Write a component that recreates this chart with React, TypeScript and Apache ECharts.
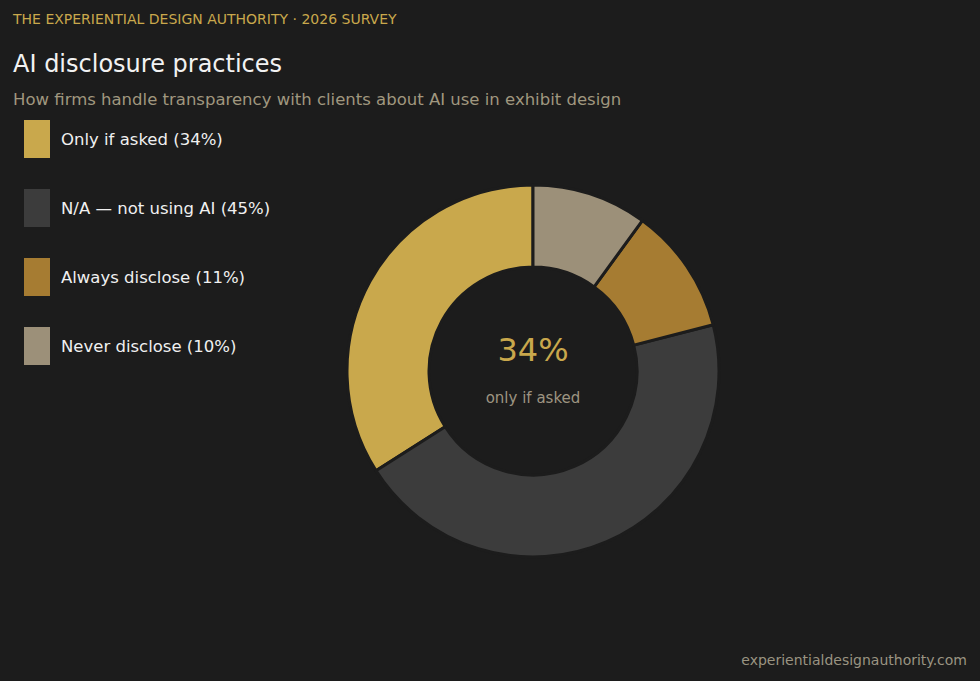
import { useEffect, useRef } from 'react';
import * as echarts from 'echarts';

const categories = ['Only if asked', 'N/A — not using AI', 'Always disclose', 'Never disclose'];
const shares = [34, 45, 11, 10];
const colors = ['#c9a84c', '#3c3c3c', '#a67c32', '#9c9079'];

const BG = '#1c1c1c';
const FONT = 'DejaVu Sans, Verdana, sans-serif';

export default function App() {
    const chartRef = useRef<HTMLDivElement>(null);

    useEffect(() => {
        if (!chartRef.current) return;
        const chart = echarts.init(chartRef.current, null, { renderer: 'svg' });

        const option = {
            animation: false,
            backgroundColor: BG,
            textStyle: { fontFamily: FONT },
            title: [
                {
                    text: 'THE EXPERIENTIAL DESIGN AUTHORITY · 2026 SURVEY',
                    left: 8,
                    top: 7,
                    textStyle: { color: '#c9a84c', fontSize: 14, fontWeight: 'normal', fontFamily: FONT },
                },
                {
                    text: 'AI disclosure practices',
                    left: 8,
                    top: 47,
                    textStyle: { color: '#f2f2f2', fontSize: 24, fontWeight: 'normal', fontFamily: FONT },
                },
                {
                    text: 'How firms handle transparency with clients about AI use in exhibit design',
                    left: 8,
                    top: 86,
                    textStyle: { color: '#a0977f', fontSize: 16.5, fontWeight: 'normal', fontFamily: FONT },
                },
                {
                    text: 'experientialdesignauthority.com',
                    right: 8,
                    top: 648,
                    textStyle: { color: '#9a9482', fontSize: 14, fontWeight: 'normal', fontFamily: FONT },
                },
            ],
            legend: {
                orient: 'vertical',
                left: 19,
                top: 115,
                itemWidth: 26,
                itemHeight: 38,
                itemGap: 31,
                icon: 'rect',
                selectedMode: false,
                itemStyle: { borderWidth: 0 },
                formatter: (name: string) => {
                    const i = categories.indexOf(name);
                    return `${name} (${shares[i]}%)`;
                },
                textStyle: { color: '#f0f0f0', fontSize: 16.5, fontFamily: FONT, padding: [0, 0, 0, 6] },
            },
            graphic: [
                {
                    type: 'text',
                    x: 533,
                    y: 350,
                    style: {
                        text: `${shares[0]}%`,
                        fill: '#c9a84c',
                        font: `32px ${FONT}`,
                        textAlign: 'center',
                        textVerticalAlign: 'middle',
                    },
                },
                {
                    type: 'text',
                    x: 533,
                    y: 398,
                    style: {
                        text: 'only if asked',
                        fill: '#9d9481',
                        font: `15px ${FONT}`,
                        textAlign: 'center',
                        textVerticalAlign: 'middle',
                    },
                },
            ],
            series: [
                {
                    type: 'pie',
                    center: [533, 371],
                    radius: [104, 186],
                    startAngle: 90,
                    clockwise: false,
                    label: { show: false },
                    labelLine: { show: false },
                    emphasis: { disabled: true },
                    itemStyle: { borderColor: BG, borderWidth: 3 },
                    data: categories.map((name, i) => ({
                        name,
                        value: shares[i],
                        itemStyle: { color: colors[i] },
                    })),
                },
            ],
        };

        chart.setOption(option);
        return () => {
            chart.dispose();
        };
    }, []);

    return (
        <div
            ref={chartRef}
            style={{ position: 'fixed', left: 0, top: 0, width: '980px', height: '681px' }}
        />
    );
}
